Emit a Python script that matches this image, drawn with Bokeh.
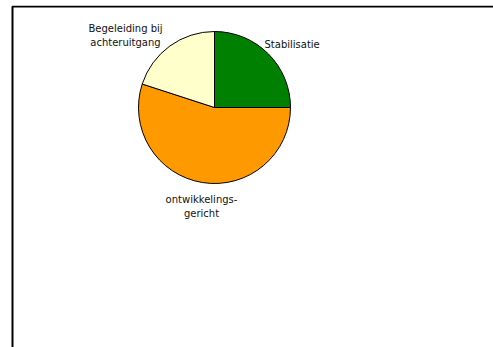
import math
import numpy as np
from bokeh.plotting import figure
from bokeh.models import Range1d, ColumnDataSource
from bokeh.core.properties import value
from bokeh.embed import file_html
from bokeh.resources import INLINE

# Data (shares in percent)
categories = ["Stabilisatie", "ontwikkelings-\ngericht", "Begeleiding bij\nachteruitgang"]
shares = [25, 55, 20]
colors = ["#008000", "#FF9900", "#FFFFCC"]

# page-pixel based coordinates: x_data = x_page, y_data = 347 - y_page
X0, Y0 = 8, 5
W, H = 485, 342
p = figure(width=W, height=H, output_backend="svg", toolbar_location=None,
           x_range=Range1d(X0, X0 + W), y_range=Range1d(347 - Y0 - H, 347 - Y0),
           min_border=0, outline_line_color=None, margin=(Y0, 0, 0, X0))
p.axis.visible = False
p.grid.visible = False
p.background_fill_color = "white"
p.border_fill_color = "white"

cx, cy, r = 214, 347 - 107, 76
vals = np.array(shares, dtype=float)
fr = vals / vals.sum()
cum = np.concatenate([[0], np.cumsum(fr)])
start = math.pi / 2 - 2 * math.pi * cum[:-1]
end = math.pi / 2 - 2 * math.pi * cum[1:]
src = ColumnDataSource(dict(start=start, end=end, color=colors, cat=categories))
p.wedge(x=cx, y=cy, radius=r, start_angle="start", end_angle="end", direction="clock",
        fill_color="color", line_color="black", line_width=1, source=src)

# labels
lx = [264, 201, 125]
ly = [347 - 44, 347 - 206, 347 - 35]
la = ["left", "center", "center"]
lsrc = ColumnDataSource(dict(x=lx, y=ly, t=categories, a=la))
p.text(x="x", y="y", text="t", text_align="a", text_baseline="middle",
       text_font=value("DejaVu Sans"), text_font_size="10px", text_color="#111111",
       text_line_height=1.25, source=lsrc)

# frame lines (left and top)
p.line(x=[12, 12, 500], y=[-5, 341, 341], line_color="black", line_width=2)

open("out.html", "w").write(file_html(p, INLINE))
